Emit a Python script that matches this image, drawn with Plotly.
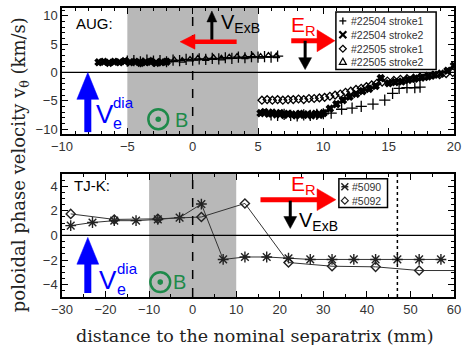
import math
import plotly.graph_objects as go

# ---------------- data (top panel: AUG) ----------------
aug1_x = [-5.0, -4.5, -4.0, -3.5, -3.0, -2.5, -2.0, -1.5, -1.0, -0.5, 0.0, 0.5, 1.0, 1.5, 2.0, 2.5, 3.0, 3.5,
          4.0, 4.5, 5.0, 5.5, 6.0, 6.5,
          6.0, 6.5, 7.0, 7.5, 8.0, 8.5, 9.0, 9.5, 10.0, 10.6, 11.4, 12.2, 12.9, 13.8, 14.7, 15.3, 15.8, 16.4,
          17.0, 17.4]
aug1_y = [2.0, 2.1, 1.9, 2.2, 2.0, 2.1, 1.9, 2.2, 2.1, 2.3, 2.2, 2.4, 2.3, 2.5, 2.4, 2.6, 2.5, 2.7,
          2.6, 2.8, 2.7, 2.8, 2.7, 2.9,
          -7.5, -7.6, -7.4, -7.6, -7.7, -7.5, -7.6, -7.4, -7.3, -7.2, -6.5, -6.3, -6.0, -5.6, -4.9, -3.7, -2.8,
          -2.7, -2.7, -2.6]

aug2_x = [-7.2, -6.8, -6.4, -6.0, -5.6, -5.2, -4.8, -4.4, -4.0, -3.6, -3.2, -2.8, -2.4, -2.0,
          5.2, 5.5, 5.8, 6.1, 6.4, 6.7, 7.0, 7.3, 7.6, 7.9, 8.2, 8.5, 8.8, 9.1, 9.4, 9.7, 10.0, 10.5, 11.0,
          11.5, 12.0, 12.5, 13.0, 13.5, 14.0, 14.4, 15.0, 15.5, 16.0, 16.5, 17.0, 17.5, 18.0, 18.5, 19.0,
          19.5, 20.0]
aug2_y = [1.8, 1.9, 1.7, 1.9, 1.8, 2.0, 1.8, 1.9, 1.7, 1.8, 1.9, 1.7, 1.8, 1.9,
          -7.2, -7.0, -7.3, -7.1, -7.4, -7.2, -7.5, -7.3, -7.4, -7.6, -7.3, -7.5, -7.4, -7.6, -7.3, -7.5, -7.2,
          -6.4, -5.6, -4.9, -4.3, -3.8, -3.3, -2.9, -2.4, -1.0, -1.9, -1.7, -1.6, -1.3, -1.1, -0.9, -0.7,
          -0.4, -0.2, 0.3, 1.2]

aug3_x = [5.3, 5.7, 6.1, 6.5, 6.9, 7.3, 7.7, 8.1, 8.5, 8.9, 9.3, 9.7, 10.1, 10.5, 10.9, 11.3, 11.7, 12.1,
          12.5, 12.9, 13.3, 13.7, 14.1, 14.5, 14.9, 15.4, 15.9, 16.4, 16.9, 17.4, 17.9, 18.4, 18.9, 19.4, 19.9]
aug3_y = [-4.9, -4.8, -4.9, -4.8, -4.9, -4.8, -4.8, -4.7, -4.8, -4.6, -4.6, -4.5, -4.4, -4.2, -4.0, -3.8,
          -3.5, -3.3, -3.0, -2.8, -2.5, -2.2, -1.9, -1.7, -1.5, -1.4, -1.2, -1.1, -1.0, -0.8, -0.7, -0.5,
          -0.4, -0.2, 0.0]

aug4_x = [-3.8, -3.2, -2.6, -2.0, -1.4, -0.8, -0.2, 0.4, 1.0, 1.6, 2.2, 2.8, 3.4, 4.0, 4.6, 5.2, 5.8, 6.4]
aug4_y = [2.0, 2.1, 1.9, 2.0, 2.2, 2.1, 2.3, 2.5, 2.4, 2.6, 2.5, 2.7, 2.8, 2.7, 2.9, 2.8, 3.0, 2.9]

aug_names = ["#22504 stroke1", "#22504 stroke2", "#22505 stroke1", "#22505 stroke2"]

# ---------------- data (bottom panel: TJ-K) ----------------
tjk1_x = [-28, -23, -18, -13, -8, -3, 2, 7, 12, 17, 22, 27, 32, 37, 42, 47, 52, 57]
tjk1_y = [0.8, 1.05, 1.2, 1.2, 1.3, 1.45, 2.55, -1.95, -1.75, -1.75, -1.85, -1.95, -1.95, -1.95, -1.95,
          -1.95, -1.95, -1.95]
tjk2_x = [-28, -18, -8, 2, 12, 22, 32, 42, 52, 62]
tjk2_y = [1.75, 1.3, 1.35, 1.5, 2.6, -2.2, -2.5, -2.55, -2.85, -2.85]
tjk_names = ["#5090", "#5092"]

top_xticks = [-10, -5, 0, 5, 10, 15, 20]
top_yticks = [-10, -5, 0, 5, 10]
bot_xticks = [-30, -20, -10, 0, 10, 20, 30, 40, 50, 60]
bot_yticks = [-4, -2, 0, 2, 4]

# ---------------- layout geometry ----------------
W, H = 467, 345
ML, MR, MT, MB = 62, 10, 6, 48
PW, PH = W - ML - MR, H - MT - MB


def px(x):
    return (x - ML) / PW


def py(y):
    return (H - MB - y) / PH


fig = go.Figure()

sym_top = ["cross-thin-open", "x", "diamond-open", "triangle-up-open"]
for xs, ys, nm, sy in zip([aug1_x, aug2_x, aug3_x, aug4_x], [aug1_y, aug2_y, aug3_y, aug4_y], aug_names, sym_top):
    fig.add_trace(go.Scatter(
        x=xs, y=ys, mode="markers", name=nm, xaxis="x", yaxis="y", showlegend=False,
        marker=dict(symbol=sy, size=6 if sy != "cross-thin-open" else 8, color="black",
                    line=dict(color="black", width=1.3)),
    ))

sym_bot = ["asterisk-open", "diamond-open"]
for xs, ys, nm, sy in zip([tjk1_x, tjk2_x], [tjk1_y, tjk2_y], tjk_names, sym_bot):
    fig.add_trace(go.Scatter(
        x=xs, y=ys, mode="lines+markers", name=nm, xaxis="x2", yaxis="y2", showlegend=False,
        line=dict(color="#333333", width=1),
        marker=dict(symbol=sy, size=9 if sy == "asterisk-open" else 7, color="#222222",
                    line=dict(color="#222222", width=1.4)),
    ))

shapes = []
annotations = []

shapes.append(dict(type="rect", xref="x", yref="y domain", x0=-5, x1=5, y0=0, y1=1,
                   fillcolor="#b8b8b8", line=dict(width=0), layer="below"))
shapes.append(dict(type="rect", xref="x2", yref="y2 domain", x0=-10, x1=10, y0=0, y1=1,
                   fillcolor="#b8b8b8", line=dict(width=0), layer="below"))
shapes.append(dict(type="line", xref="x domain", yref="y", x0=0, x1=1, y0=0, y1=0,
                   line=dict(color="black", width=1.3)))
shapes.append(dict(type="line", xref="x2 domain", yref="y2", x0=0, x1=1, y0=0, y1=0,
                   line=dict(color="black", width=1.3)))
shapes.append(dict(type="line", xref="x", yref="y domain", x0=0, x1=0, y0=0, y1=1,
                   line=dict(color="black", width=1.5, dash="dash")))
shapes.append(dict(type="line", xref="x2", yref="y2 domain", x0=0, x1=0, y0=0, y1=1,
                   line=dict(color="black", width=1.5, dash="dash")))
shapes.append(dict(type="line", xref="x2", yref="y2 domain", x0=47, x1=47, y0=0, y1=1,
                   line=dict(color="black", width=1.5, dash="dot")))


def seg(x0, y0, x1, y1, w, color):
    shapes.append(dict(type="line", xref="paper", yref="paper", x0=px(x0), y0=py(y0), x1=px(x1), y1=py(y1),
                       line=dict(color=color, width=w)))


def poly(pts, color, fill=True, w=0.5):
    path = "M " + " L ".join(f"{px(a):.5f},{py(b):.5f}" for a, b in pts) + " Z"
    shapes.append(dict(type="path", xref="paper", yref="paper", path=path,
                       fillcolor=color if fill else "rgba(0,0,0,0)", line=dict(color=color, width=w)))


def arrow(x0, y0, x1, y1, w, hl, hw, color):
    dx, dy = x1 - x0, y1 - y0
    L = math.hypot(dx, dy)
    ux, uy = dx / L, dy / L
    bx, by = x1 - ux * hl, y1 - uy * hl
    seg(x0, y0, bx + ux, by + uy, w, color)
    pxp, pyp = -uy, ux
    poly([(x1, y1), (bx + pxp * hw / 2, by + pyp * hw / 2), (bx - pxp * hw / 2, by - pyp * hw / 2)], color)


def text(x, y, s, size, color="black", xa="left", ya="middle", family="Liberation Sans"):
    annotations.append(dict(x=px(x), y=py(y), xref="paper", yref="paper", text=s, showarrow=False,
                            xanchor=xa, yanchor=ya, font=dict(size=size, color=color, family=family)))


def odot(cx, cy, r, color):
    shapes.append(dict(type="circle", xref="paper", yref="paper", x0=px(cx - r), x1=px(cx + r),
                       y0=py(cy + r), y1=py(cy - r), line=dict(color=color, width=2.5)))
    shapes.append(dict(type="circle", xref="paper", yref="paper", x0=px(cx - 2.8), x1=px(cx + 2.8),
                       y0=py(cy + 2.8), y1=py(cy - 2.8), fillcolor=color, line=dict(color=color, width=0)))


def sym(kind, cx, cy, color="black"):
    r = 3.5
    if kind == "plus":
        seg(cx - r, cy, cx + r, cy, 1.3, color)
        seg(cx, cy - r, cx, cy + r, 1.3, color)
    elif kind == "x":
        seg(cx - r, cy - r, cx + r, cy + r, 2.2, color)
        seg(cx - r, cy + r, cx + r, cy - r, 2.2, color)
    elif kind == "diamond":
        poly([(cx, cy - r), (cx + r, cy), (cx, cy + r), (cx - r, cy)], color, fill=False, w=1.2)
    elif kind == "triangle":
        poly([(cx, cy - r), (cx + r, cy + r * 0.8), (cx - r, cy + r * 0.8)], color, fill=False, w=1.2)
    elif kind == "asterisk":
        seg(cx - r, cy - r, cx + r, cy + r, 1.5, color)
        seg(cx - r, cy + r, cx + r, cy - r, 1.5, color)
        seg(cx - r, cy, cx + r, cy, 1.5, color)


BLUE = "#0000ff"
RED = "#ff0000"
GREEN = "#1e8a4a"

# ---- top panel decorations ----
text(74, 22, "AUG:", 15)
arrow(213, 39, 213, 9, 3, 11, 10, "black")
text(220, 22, "V<sub>ExB</sub>", 20)
arrow(238, 40, 181, 40, 4.5, 15, 15, RED)
text(291, 24, "E<sub>R</sub>", 21, RED)
arrow(293, 39, 337, 39, 5, 18, 22, RED)
arrow(307, 39, 307, 68, 3, 12, 13, "black")
arrow(88, 131, 88, 71, 7, 27, 22, BLUE)
text(94, 113, "V", 26, BLUE)
text(111, 122, "e", 16, BLUE)
text(111, 101, "dia", 15, BLUE)
odot(159, 118, 10, GREEN)
text(174, 119, "B", 20, GREEN)

# top legend
shapes.append(dict(type="rect", xref="paper", yref="paper", x0=px(338), x1=px(439), y0=py(68), y1=py(10),
                   fillcolor="white", line=dict(color="black", width=1.5)))
for nm, kind, yy in zip(aug_names, ["plus", "x", "diamond", "triangle"], [19, 33, 47, 60]):
    sym(kind, 345, yy)
    text(351, yy, nm, 10.5, "#333")

# ---- bottom panel decorations ----
text(72, 185, "TJ-K:", 15)
arrow(88, 293, 88, 237, 7, 27, 22, BLUE)
text(97, 280, "V", 26, BLUE)
text(115, 289, "e", 16, BLUE)
text(115, 268, "dia", 15, BLUE)
odot(161, 282, 10, GREEN)
text(172, 282, "B", 20, GREEN)
text(291, 184, "E<sub>R</sub>", 21, RED)
arrow(262, 199, 338, 199, 5, 19, 22, RED)
arrow(292, 200, 292, 228, 3, 12, 13, "black")
text(299, 221, "V<sub>ExB</sub>", 20)

# bottom legend
shapes.append(dict(type="rect", xref="paper", yref="paper", x0=px(341), x1=px(390), y0=py(207), y1=py(178),
                   fillcolor="white", line=dict(color="black", width=1.5)))
for nm, kind, yy in zip(tjk_names, ["asterisk", "diamond"], [186, 200]):
    sym(kind, 347, yy, "#222")
    text(352, yy, nm, 10.5, "#333")

# axis titles
annotations.append(dict(x=px(20), y=py(164), xref="paper", yref="paper", textangle=-90, showarrow=False,
                        text="poloidal phase velocity v<sub>θ</sub> (km/s)", xanchor="center", yanchor="middle",
                        font=dict(size=18, family="DejaVu Serif", color="#222")))
annotations.append(dict(x=px(256), y=py(336), xref="paper", yref="paper", showarrow=False,
                        text="distance to the nominal separatrix (mm)", xanchor="center", yanchor="middle",
                        font=dict(size=17.5, family="DejaVu Serif", color="#222")))

tickfont = dict(family="Liberation Sans", size=13, color="#333")
axcommon = dict(showgrid=False, zeroline=False, showline=True, linecolor="black", linewidth=1.5,
                mirror="allticks", ticks="inside", ticklen=6, tickwidth=1, tickcolor="black",
                tickfont=tickfont)

fig.update_layout(
    width=W, height=H, margin=dict(l=ML, r=MR, t=MT, b=MB),
    paper_bgcolor="white", plot_bgcolor="white", showlegend=False,
    xaxis=dict(domain=[0, 1], range=[-10, 20], anchor="y", tickvals=top_xticks,
               minor=dict(dtick=1, ticks="inside", ticklen=3, tickcolor="black"), **axcommon),
    yaxis=dict(domain=[0.5636, 1], range=[-10.9, 11.4], anchor="x", tickvals=top_yticks,
               minor=dict(dtick=1, ticks="inside", ticklen=3, tickcolor="black"), **axcommon),
    xaxis2=dict(domain=[0, 1], range=[-30, 60], anchor="y2", tickvals=bot_xticks,
                minor=dict(dtick=5, ticks="inside", ticklen=3, tickcolor="black"), **axcommon),
    yaxis2=dict(domain=[0, 0.426], range=[-5, 5], anchor="x2", tickvals=bot_yticks,
                minor=dict(dtick=0.5, ticks="inside", ticklen=3, tickcolor="black"), **axcommon),
    shapes=shapes, annotations=annotations,
)

fig.write_html("out.html", config={"displayModeBar": False},
               post_script="document.body.style.margin='0px';")
